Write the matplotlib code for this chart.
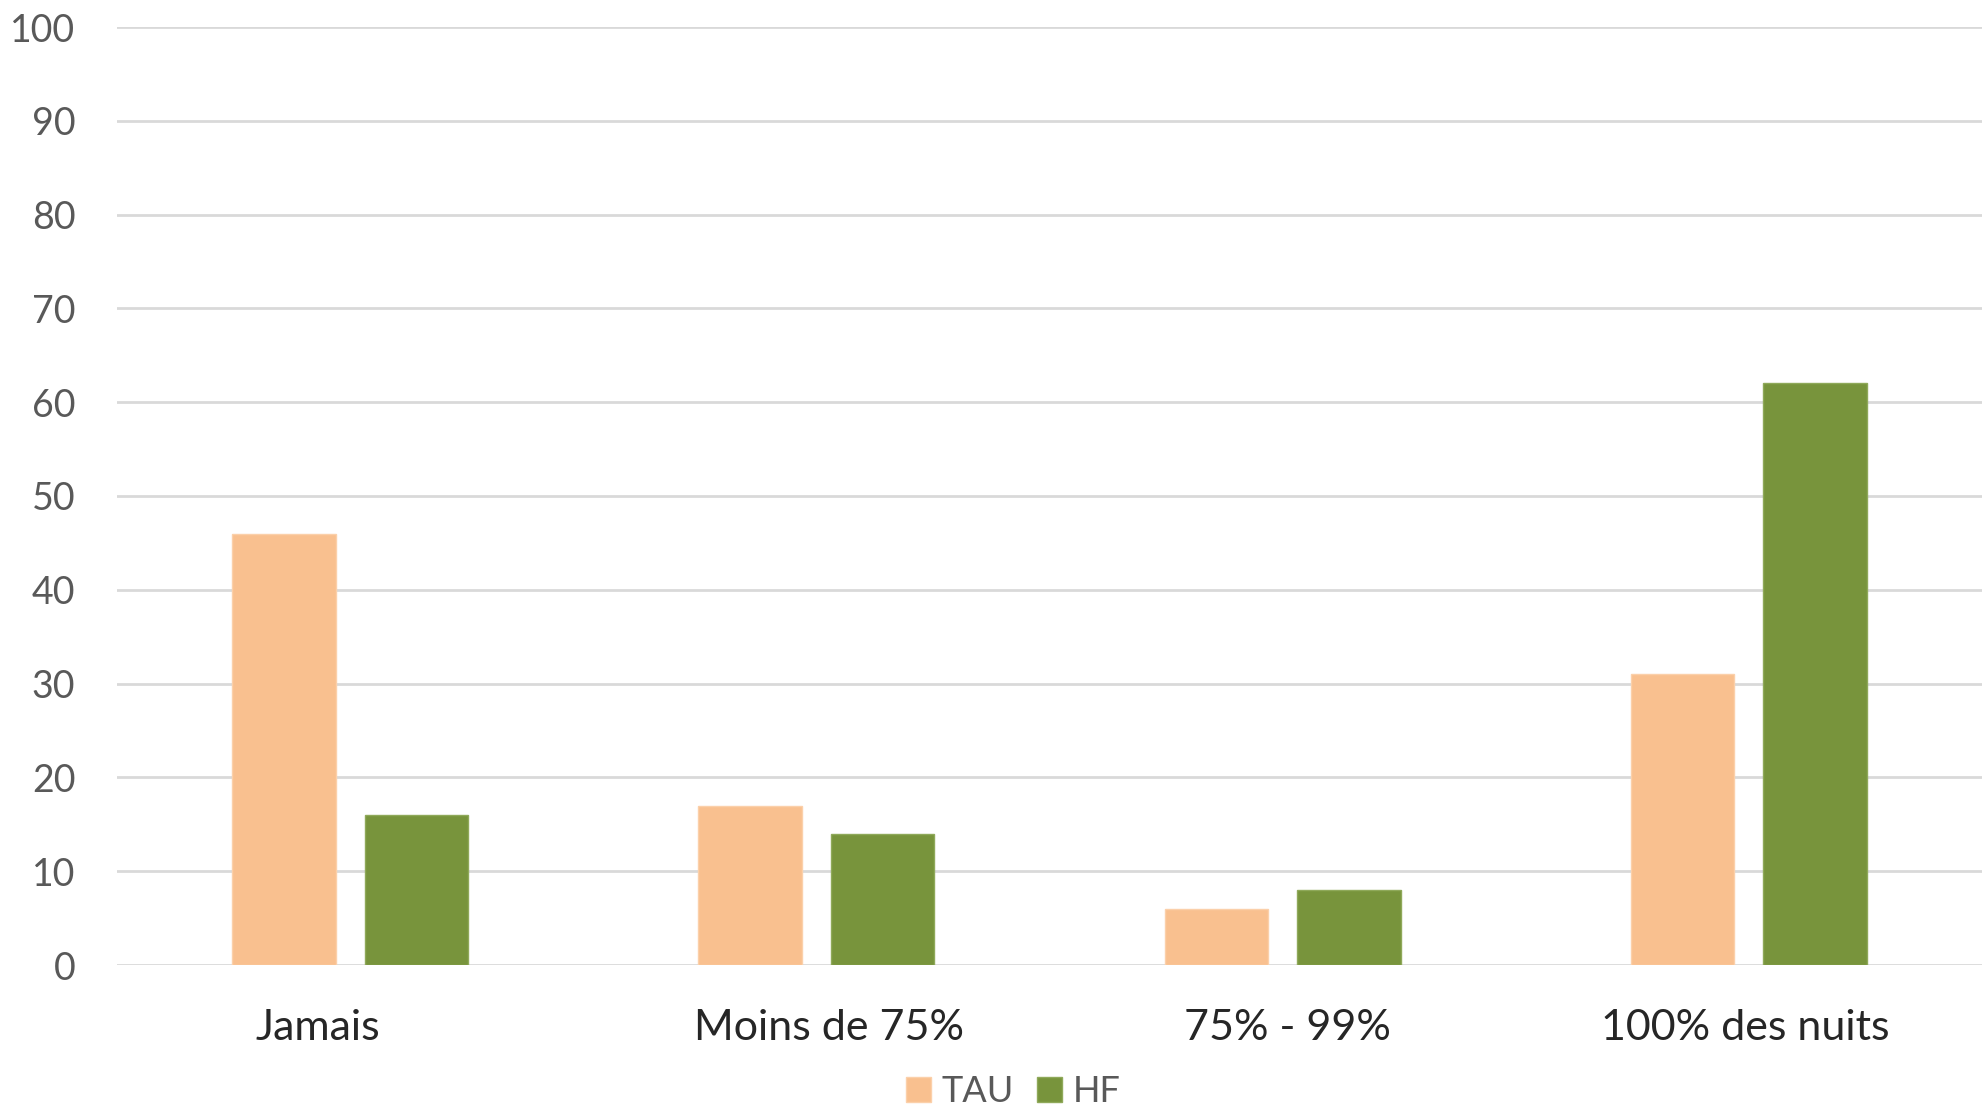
import numpy as np
import matplotlib.pyplot as plt

categories = ['Jamais', 'Moins de 75%', '75% - 99%', '100% des nuits']
tau = [46, 17, 6, 31]
hf = [16, 14, 8, 62]

plt.rcParams['font.family'] = ['Lato', 'DejaVu Sans']

fig = plt.figure(figsize=(19.87, 11.11), dpi=100)
ax = fig.add_axes([117 / 1987, 1 - 965 / 1111, (1982 - 117) / 1987, (965 - 27) / 1111])

x = np.arange(len(categories))
w = 0.222
off = (w + 0.062) / 2
ax.bar(x - off, tau, w, color='#f9c08f', edgecolor='#fbd0aa', linewidth=1, label='TAU', zorder=3)
ax.bar(x + off, hf, w, color='#78943c', edgecolor='#8fa95a', linewidth=1, label='HF', zorder=3)

ax.set_xlim(-0.5, len(categories) - 0.5)
ax.set_ylim(0, 100)
ax.set_yticks(range(0, 101, 10))
ax.yaxis.grid(True, color='#d9d9d9', linewidth=2)
ax.set_axisbelow(True)
for s in ax.spines.values():
    s.set_visible(False)
ax.tick_params(axis='y', length=0, pad=30, labelsize=27, labelcolor='#595959')
ax.tick_params(axis='x', length=0, pad=32, labelsize=31, labelcolor='#262626')

# label centres are not exactly on the category centres in the original
label_shift = [-0.07, 0.027, 0.011, -0.008]
ax.set_xticks(x + np.array(label_shift))
ax.set_xticklabels(categories)

fig.legend(*ax.get_legend_handles_labels(), loc='center', bbox_to_anchor=(0.51, 1 - 1092 / 1111),
           ncol=2, frameon=False, fontsize=26, labelcolor='#595959', borderpad=0.1,
           handlelength=0.68, handleheight=0.68, handletextpad=0.3, columnspacing=0.65)

fig.savefig('out.png', dpi=100)
